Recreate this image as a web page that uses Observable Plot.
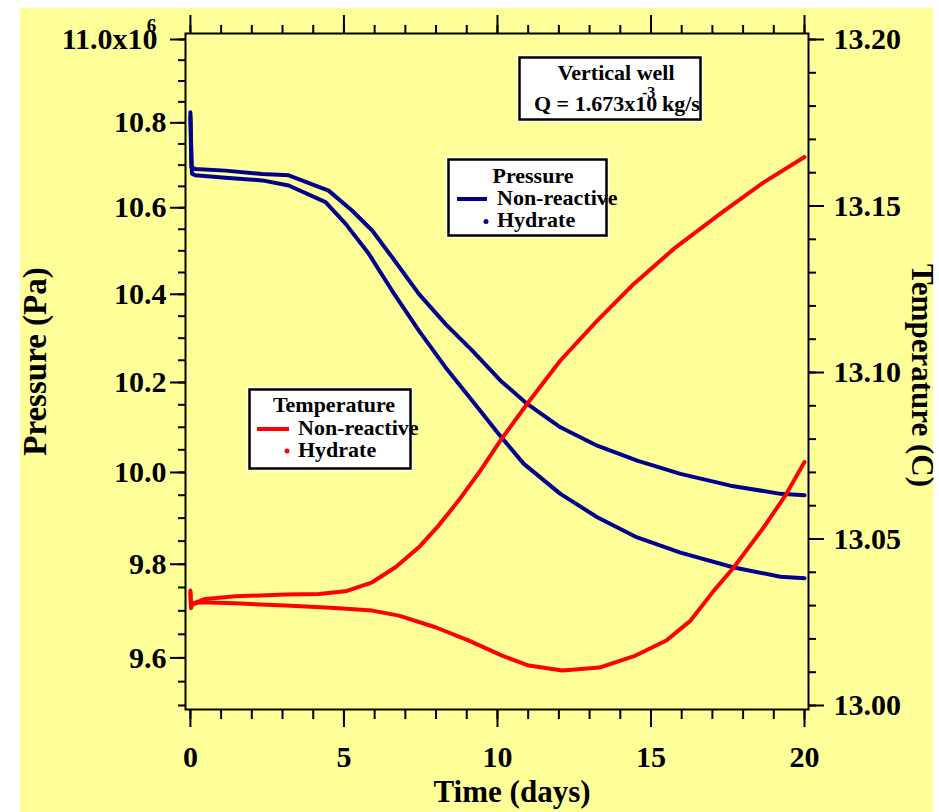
<!DOCTYPE html>
<html>
<head>
<meta charset="utf-8">
<script src="https://cdn.jsdelivr.net/npm/d3@7"></script>
<script src="https://cdn.jsdelivr.net/npm/@observablehq/plot@0.6"></script>
<style>
  body { margin: 0; background: #ffffff; }
  #wrap { position: relative; width: 939px; height: 812px; overflow: hidden; }
  #bg { position: absolute; left: 20px; top: 8px; width: 913px; height: 804px; background: #ffff99; }
  #wrap > svg { position: absolute; left: 0; top: 0; }
</style>
</head>
<body>
<div id="wrap"><div id="bg"></div></div>
<script>
// ---------------- DATA ----------------
// Pressure (x10^6 Pa) vs time (days)
const pressureHydrateDays = [0, 0.03, 0.16, 1.14, 2.34, 3.20, 4.50, 5.27, 5.92, 6.57, 7.44, 8.31, 9.18, 10.10, 10.97, 12.05, 13.25, 14.55, 15.96, 17.59, 19.22, 20];
const pressureHydrate     = [10.825, 10.695, 10.691, 10.687, 10.679, 10.676, 10.640, 10.593, 10.547, 10.485, 10.401, 10.332, 10.272, 10.204, 10.152, 10.100, 10.059, 10.026, 9.997, 9.971, 9.953, 9.950];

const pressureNonReactiveDays = [0, 0.05, 0.16, 1.14, 2.34, 3.20, 4.40, 5.05, 5.81, 6.57, 7.44, 8.31, 9.18, 10.04, 10.86, 12.05, 13.25, 14.55, 15.96, 17.70, 19.22, 20];
const pressureNonReactive     = [10.815, 10.680, 10.676, 10.670, 10.664, 10.652, 10.613, 10.563, 10.493, 10.408, 10.317, 10.234, 10.159, 10.085, 10.019, 9.953, 9.902, 9.858, 9.825, 9.793, 9.773, 9.770];

// Temperature (C) vs time (days)
const tempNonReactiveDays = [0, 0.02, 0.055, 0.49, 1.47, 3.09, 4.18, 5.05, 5.92, 6.68, 7.44, 8.09, 8.74, 9.45, 10.10, 10.97, 12.05, 13.25, 14.44, 15.74, 17.26, 18.67, 20];
const tempNonReactive     = [13.0345, 13.0295, 13.0305, 13.0320, 13.0328, 13.0333, 13.0335, 13.0343, 13.0370, 13.0415, 13.0475, 13.0541, 13.0616, 13.0706, 13.0796, 13.0906, 13.1036, 13.1156, 13.1266, 13.1371, 13.1477, 13.1571, 13.1647];

const tempHydrateDays = [0, 0.02, 0.05, 0.27, 1.47, 3.09, 4.72, 5.92, 6.79, 7.98, 9.07, 10.15, 11.02, 12.11, 13.32, 14.50, 15.50, 16.29, 17.05, 17.70, 18.67, 19.38, 20];
const tempHydrate     = [13.0340, 13.0292, 13.0303, 13.0310, 13.0307, 13.0300, 13.0293, 13.0285, 13.0270, 13.0235, 13.0195, 13.0150, 13.0120, 13.0105, 13.0114, 13.0150, 13.0195, 13.0255, 13.0345, 13.0415, 13.0535, 13.0631, 13.0731];

// Ticks
const dayMajorTicks = [0, 5, 10, 15, 20];
const dayMinorTicks = d3.range(0, 21, 1);
const pressureMajorTicks = [9.6, 9.8, 10.0, 10.2, 10.4, 10.6, 10.8];
const pressureTopTick = [11.0];
const pressureTopLabel = "11.0x10";
const pressureTopExponent = "6";
const pressureMinorTicks = d3.range(0, 31).map(i => +(9.5 + i * 0.05).toFixed(2));
const tempMajorTicks = [13.00, 13.05, 13.10, 13.15, 13.20];
const tempMinorTicks = d3.range(0, 21).map(i => +(13 + i * 0.01).toFixed(2));

// Texts
const xTitle = "Time (days)";
const yLeftTitle = "Pressure (Pa)";
const yRightTitle = "Temperature (C)";

// ---------------- LAYOUT ----------------
const W = 939, H = 812;
const FONT = '"Liberation Serif","Times New Roman",Times,serif';
const BLUE = "#00008c", RED = "#ff0000";
const xDomain = [-0.16, 20.13];
const pressureDomain = [9.4916, 11.0145];
const tempDomain = [12.9988, 13.2018];

const base = {
  width: W, height: H,
  marginLeft: 185, marginRight: 131, marginTop: 33, marginBottom: 103,
  style: { background: "transparent", overflow: "visible", fontFamily: FONT, fontWeight: "bold", color: "black" }
};

const rows = (days, vals, name) => days.map((d, i) => ({ day: d, v: vals[i], name }));

const lineOpts = { x: "day", y: "v", strokeWidth: 4, strokeLinejoin: "round", strokeLinecap: "round" };
const titleOpts = { text: d => d, fontSize: 31, fontWeight: "bold", fill: "black", textAnchor: "middle", lineAnchor: "middle" };

const plotP = Plot.plot({
  ...base,
  x: { domain: xDomain },
  y: { type: "log", domain: pressureDomain },
  marks: [
    Plot.frame({ stroke: "black", strokeWidth: 2 }),
    // bottom axis
    Plot.axisX({ anchor: "bottom", ticks: dayMinorTicks, tickSize: 10, tickFormat: () => "", label: null, strokeWidth: 2 }),
    Plot.axisX({ anchor: "bottom", ticks: dayMajorTicks, tickSize: 18, tickPadding: 18, tickFormat: d => String(d),
      fontSize: 30, fontWeight: "bold", label: null, strokeWidth: 2 }),
    // top axis (ticks only)
    Plot.axisX({ anchor: "top", ticks: dayMinorTicks, tickSize: 9, tickFormat: () => "", label: null, strokeWidth: 2 }),
    Plot.axisX({ anchor: "top", ticks: dayMajorTicks, tickSize: 19, tickFormat: () => "", label: null, strokeWidth: 2 }),
    // left axis
    Plot.axisY({ anchor: "left", ticks: pressureMinorTicks, tickSize: 7, tickFormat: () => "", label: null, strokeWidth: 2 }),
    Plot.axisY({ anchor: "left", ticks: pressureMajorTicks, tickSize: 15, tickPadding: 4, tickFormat: d => d.toFixed(1),
      fontSize: 30, fontWeight: "bold", label: null, strokeWidth: 2 }),
    Plot.axisY({ anchor: "left", ticks: pressureTopTick, tickSize: 15, tickFormat: () => "", label: null, strokeWidth: 2 }),
    Plot.text(pressureTopTick, { y: d => d, text: () => pressureTopLabel, frameAnchor: "left", dx: -28, textAnchor: "end",
      lineAnchor: "middle", fontSize: 30, fontWeight: "bold", fill: "black" }),
    Plot.text(pressureTopTick, { y: d => d, text: () => pressureTopExponent, frameAnchor: "left", dx: -34, dy: -14, textAnchor: "middle",
      lineAnchor: "middle", fontSize: 19, fontWeight: "bold", fill: "black" }),
    // pressure curves
    Plot.line(rows(pressureHydrateDays, pressureHydrate, "Hydrate"), { ...lineOpts, stroke: BLUE }),
    Plot.line(rows(pressureNonReactiveDays, pressureNonReactive, "Non-reactive"), { ...lineOpts, stroke: BLUE }),
    // titles
    Plot.text([xTitle], { ...titleOpts, frameAnchor: "bottom", dx: 15, dy: 83 }),
    Plot.text([yLeftTitle], { ...titleOpts, fontSize: 33, frameAnchor: "left", rotate: -90, dx: -150, dy: -10 })
  ]
});

const plotT = Plot.plot({
  ...base,
  x: { domain: xDomain, axis: null },
  y: { domain: tempDomain },
  marks: [
    Plot.axisY({ anchor: "right", ticks: tempMinorTicks, tickSize: 7, tickFormat: () => "", label: null, strokeWidth: 2 }),
    Plot.axisY({ anchor: "right", ticks: tempMajorTicks, tickSize: 15, tickPadding: 10, tickFormat: d => d.toFixed(2),
      fontSize: 30, fontWeight: "bold", label: null, strokeWidth: 2 }),
    Plot.line(rows(tempNonReactiveDays, tempNonReactive, "Non-reactive"), { ...lineOpts, stroke: RED }),
    Plot.line(rows(tempHydrateDays, tempHydrate, "Hydrate"), { ...lineOpts, stroke: RED }),
    Plot.text([yRightTitle], { ...titleOpts, frameAnchor: "right", rotate: 90, dx: 113, dy: 4 })
  ]
});

const wrap = document.getElementById("wrap");
wrap.appendChild(plotP);
wrap.appendChild(plotT);

// ---------------- LEGENDS / ANNOTATION ----------------
const svg = d3.select(wrap).append("svg")
  .attr("width", W).attr("height", H)
  .style("font-family", FONT).style("font-weight", "bold").style("pointer-events", "none");

function box(x, y, w, h) {
  svg.append("rect").attr("x", x).attr("y", y).attr("width", w).attr("height", h).attr("fill", "white");
  svg.append("rect").attr("x", x + 2.5).attr("y", y + 2.5).attr("width", w - 5).attr("height", h - 5)
    .attr("fill", "none").attr("stroke", "black").attr("stroke-width", 2.5);
}
function txt(x, y, s, size, anchor) {
  svg.append("text").attr("x", x).attr("y", y).attr("font-size", size)
    .attr("text-anchor", anchor || "start").attr("fill", "black").text(s);
}

// Well info box
box(517, 55, 186, 67);
txt(616, 80, "Vertical well", 22, "middle");
txt(534, 111, "Q = 1.673x10", 22);
txt(642, 98, "-3", 16);
txt(662, 111, "kg/s", 22);

// Pressure legend
box(446, 157, 163, 81);
txt(533, 183, "Pressure", 22, "middle");
svg.append("line").attr("x1", 457).attr("x2", 487).attr("y1", 199).attr("y2", 199).attr("stroke", BLUE).attr("stroke-width", 4);
txt(497, 205, "Non-reactive", 22);
svg.append("circle").attr("cx", 486).attr("cy", 221.5).attr("r", 2.5).attr("fill", BLUE);
txt(497, 227, "Hydrate", 22);

// Temperature legend
box(247, 387, 166, 84);
txt(334, 412, "Temperature", 22, "middle");
svg.append("line").attr("x1", 257).attr("x2", 289).attr("y1", 429).attr("y2", 429).attr("stroke", RED).attr("stroke-width", 4);
txt(298, 435, "Non-reactive", 22);
svg.append("circle").attr("cx", 287).attr("cy", 451).attr("r", 2.5).attr("fill", RED);
txt(298, 457, "Hydrate", 22);
</script>
</body>
</html>
